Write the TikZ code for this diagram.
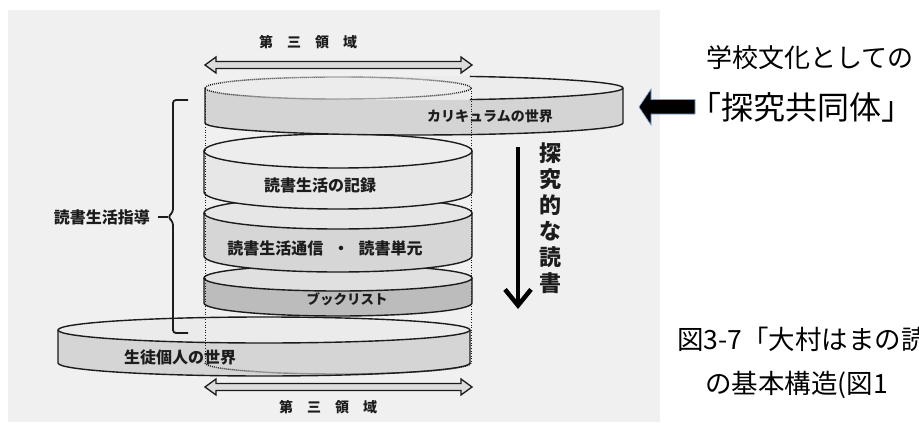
\documentclass[tikz,border=0pt]{standalone}
\usepackage{fontspec}
\newfontfamily\jp{Noto Sans CJK JP}
\usetikzlibrary{arrows.meta}
\definecolor{scan}{RGB}{240,240,240}
\definecolor{face1}{RGB}{236,236,236}
\definecolor{side1}{RGB}{212,212,212}
\definecolor{face2}{RGB}{237,237,237}
\definecolor{side2}{RGB}{231,231,231}
\definecolor{face3}{RGB}{230,230,230}
\definecolor{side3}{RGB}{214,214,214}
\definecolor{face4}{RGB}{224,224,224}
\definecolor{side4}{RGB}{188,188,188}
\definecolor{face5}{RGB}{235,235,235}
\definecolor{side5}{RGB}{213,213,213}
\definecolor{ink}{RGB}{28,28,28}
\definecolor{hollow}{RGB}{220,220,220}
\definecolor{edgeblue}{RGB}{120,160,220}
\newcommand\mydisk[7]{%
  \fill[#7] ({#1-#3},#2) -- ++(0,#5) arc[start angle=180,end angle=360,x radius=#3pt,y radius=#4pt] -- ++(0,-#5) arc[start angle=360,end angle=180,x radius=#3pt,y radius=#4pt] -- cycle;
  \draw[disk] ({#1-#3},#2) -- ++(0,#5) arc[start angle=180,end angle=360,x radius=#3pt,y radius=#4pt] -- ++(0,-#5);
  \filldraw[disk,fill=#6] (#1,#2) ellipse[x radius=#3pt,y radius=#4pt];
}
\newcommand\hollowarrow[1]{%
  \filldraw[harrow] (205,#1) -- (216,#1-8) -- (216,#1-3.5) -- (461,#1-3.5) -- (461,#1-8) -- (472,#1) -- (461,#1+8) -- (461,#1+3.5) -- (216,#1+3.5) -- (216,#1+8) -- cycle;
}
\tikzset{
  disk/.style={draw=ink,line width=1.4pt},
  harrow/.style={draw=ink,line width=1.3pt,fill=hollow,line join=miter},
  dotarc/.style={draw=ink,line width=1.4pt,dash pattern=on 0.9pt off 1.1pt},
  dotv/.style={draw=ink,line width=1pt,dash pattern=on 1pt off 1.6pt},
  lbl/.style={font=\jp\bfseries\fontsize{16}{18}\selectfont,text=ink,inner sep=0pt},
  lblsm/.style={font=\jp\bfseries\fontsize{14}{16}\selectfont,text=ink,inner sep=0pt},
  bigtxt/.style={font=\jp\fontsize{26}{30}\selectfont,text=black,inner sep=0pt,anchor=west},
  captxt/.style={font=\jp\fontsize{26.5}{28}\selectfont,text=black,inner sep=0pt,anchor=west},
}
\begin{document}
\begin{tikzpicture}[x=1pt,y=-1pt]
\useasboundingbox (0,0) rectangle (919,423);
\fill[white] (0,0) rectangle (919,423);
\fill[scan] (8,10) rectangle (660,422);

% disks, bottom to top
\mydisk{264}{330}{206}{13}{33}{face5}{side5}
\mydisk{338}{278}{134}{13}{25}{face4}{side4}
\mydisk{338}{213}{134}{16}{43}{face3}{side3}
\mydisk{338}{151}{134}{17}{41}{face2}{side2}

% top disk (curriculum)
\fill[side1] (205,88) -- ++(0,35) arc[start angle=180,end angle=360,x radius=209pt,y radius=12pt] -- ++(0,-35) arc[start angle=360,end angle=180,x radius=209pt,y radius=12pt] -- cycle;
\fill[face1] (414,88) ellipse[x radius=209pt,y radius=12pt];
\draw[disk] (205,88) -- ++(0,35) arc[start angle=180,end angle=360,x radius=209pt,y radius=12pt] -- ++(0,-35);
\draw[disk] (623,88) arc[start angle=0,end angle=74.5,x radius=209pt,y radius=12pt];
\draw[disk] (623,88) arc[start angle=360,end angle=285.5,x radius=209pt,y radius=12pt];

% labels on disks
\node[lblsm] (cur) at (490,116) {カリキュラムの世界};
\node[lbl] (rec) at (320,185) {読書生活の記録};
\node[lbl] (com) at (325,248) {読書生活通信\hspace{0.6em}・\hspace{0.6em}読書単元};
\node[lbl,font=\jp\bfseries\fontsize{13.5}{15}\selectfont] (bk) at (347,299) {ブックリスト};
\node[lbl] (stu) at (180,357) {生徒個人の世界};

% dotted third-region cylinder
\draw[dotarc] (338,88) ellipse[x radius=133pt,y radius=11pt];
\draw[dotv] (205,88) -- (205,363);
\draw[dotv] (471,88) -- (471,363);
\draw[dotarc] (205,363) arc[start angle=180,end angle=360,x radius=133pt,y radius=11pt];

% third region arrows and labels
\hollowarrow{65}
\hollowarrow{387}
\node[lblsm] (t1) at (308,42) {第\quad 三\quad 領\quad 域};
\node[lblsm] (t2) at (328,407) {第\quad 三\quad 領\quad 域};

% brace
\node[lbl,anchor=east] (guide) at (150,217) {読書生活指導};
\coordinate (cusp) at (168,217);
\draw[ink,line width=1.8pt,rounded corners=3pt] (188,100) -- (173,100) -- (173,212) -- (cusp) -- (173,222) -- (173,333) -- (188,333);
\draw[ink,line width=1.8pt] (guide.east) ++(8,0) -- (cusp);

% inquiry reading arrow
\coordinate (vs) at (518,147);
\coordinate (ve) at (518,309);
\draw[black,line width=4.5pt,-{Straight Barb[length=16pt,width=26pt]}] (vs) -- (ve);
\node[font=\jp\bfseries\fontsize{22}{26}\selectfont,align=center,inner sep=0pt,text=ink] (inq) at (550,218) {探\\究\\的\\な\\読\\書};

% right side
\node[bigtxt] (sch) at (706,58) {学校文化としての};
\node[bigtxt,font=\jp\fontsize{32}{34}\selectfont] (kyo) at (689,107) {「探究共同体」};
\filldraw[fill=black,draw=edgeblue,line width=0.6pt] (639,107) -- (651,89) -- (651,99.5) -- (695,99.5) -- (695,114) -- (651,114) -- (651,125) -- cycle;

\node[captxt] (cap1) at (677,339) {図3-7「大村はまの読};
\node[captxt] (cap2) at (705,385) {の基本構造(図1};
\end{tikzpicture}
\end{document}
